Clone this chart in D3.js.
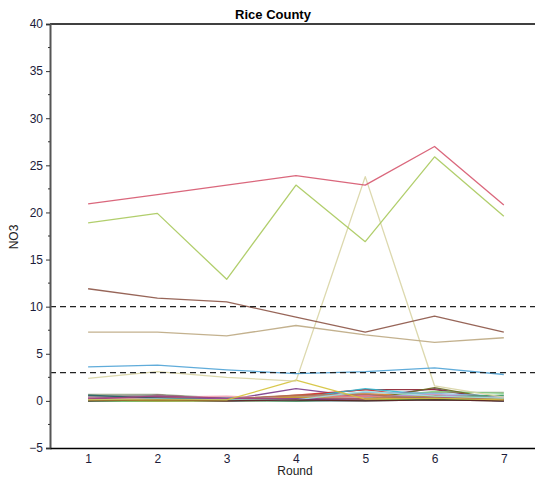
<!DOCTYPE html>
<html>
<head>
<meta charset="utf-8">
<script src="https://cdn.jsdelivr.net/npm/d3@7"></script>
<style>
  html, body { margin: 0; padding: 0; background: #fff; }
  svg { display: block; font-family: "Liberation Sans", Arial, sans-serif; }
</style>
</head>
<body>
<svg id="chart" width="535" height="485"></svg>
<script>
// NO3 readings per sampling round, Rice County wells
const rounds = [1, 2, 3, 4, 5, 6, 7];
const yTicks = [-5, 0, 5, 10, 15, 20, 25, 30, 35, 40];
const referenceLevels = [10, 3];

const wellIds = [
  "W01","W02","W03","W04","W05","W06","W07","W08","W09","W10",
  "W11","W12","W13","W14","W15","W16","W17","W18","W19","W20",
  "W21","W22","W23","W24","W25","W26","W27","W28","W29","W30",
  "W31","W32","W33"
];

const wellColors = [
  "#9aa88a","#3a9a9a","#e060d0","#7a3a8a","#8b2030","#d03030","#30b8d0","#80d080","#e89030","#f0a0b0",
  "#303080","#6b6b20","#80b0e0","#b090d0","#b07050","#40a060","#909090","#9040c0","#e88070","#4060c0",
  "#60b040","#c0a030","#206060","#a04080","#a0e0e0","#602020","#d4c238",
  "#d8d4a4","#4fa3d6","#bca982","#8c5446","#a9c95c","#d6566e"
];

const wellValues = [
  [0.7, 0.7, 0.3, 0.4, 0.6, 0.9, 0.9],
  [0.4, 0.5, 0.3, 0.2, 0.3, 0.6, 0.3],
  [0.4, 0.3, 0.2, 0.3, 0.6, 0.4, 0.2],
  [0.3, 0.5, 0.1, 1.3, 0.4, 1.3, 0.0],
  [0.0, 0.6, 0.2, 0.5, 1.2, 1.2, 0.1],
  [0.1, 0.2, 0.1, 0.6, 1.2, 0.3, 0.0],
  [0.2, 0.1, 0.2, 0.3, 1.3, 0.6, 0.2],
  [0.0, 0.0, 0.0, 0.1, 0.3, 1.0, 0.8],
  [0.1, 0.1, 0.2, 0.5, 0.8, 0.4, 0.1],
  [0.5, 0.4, 0.5, 0.2, 0.4, 0.7, 0.3],
  [0.2, 0.3, 0.1, 0.1, 0.2, 0.3, 0.0],
  [0.1, 0.2, 0.0, 0.3, 0.1, 1.4, 0.1],
  [0.3, 0.2, 0.3, 0.4, 0.9, 0.8, 0.5],
  [0.2, 0.1, 0.0, 0.2, 0.5, 0.6, 0.4],
  [0.1, 0.4, 0.2, 0.6, 0.7, 0.2, 0.0],
  [0.0, 0.0, 0.0, 0.0, 0.2, 0.4, 0.6],
  [0.5, 0.6, 0.2, 0.1, 0.3, 0.5, 0.2],
  [0.2, 0.3, 0.2, 0.3, 0.1, 0.2, 0.1],
  [0.3, 0.2, 0.1, 0.4, 0.5, 0.1, 0.0],
  [0.0, 0.1, 0.0, 0.2, 0.1, 0.3, 0.0],
  [0.0, 0.0, 0.1, 0.0, 0.1, 0.2, 0.1],
  [0.1, 0.0, 0.0, 0.4, 0.2, 0.5, 0.2],
  [0.6, 0.3, 0.1, 0.0, 0.0, 0.1, 0.0],
  [0.2, 0.5, 0.3, 0.2, 0.2, 0.4, 0.1],
  [0.1, 0.2, 0.1, 0.1, 1.0, 0.5, 0.3],
  [0.0, 0.1, 0.0, 0.1, 0.0, 0.1, 0.0],
  [0.1, 0.1, 0.1, 2.2, 0.2, 0.3, 0.1],
  [2.4, 3.1, 2.5, 2.1, 23.8, 1.6, 0.4],
  [3.6, 3.8, 3.3, 2.9, 3.1, 3.5, 2.8],
  [7.3, 7.3, 6.9, 8.0, 7.0, 6.2, 6.7],
  [11.9, 10.9, 10.5, 8.9, 7.3, 9.0, 7.3],
  [18.9, 19.9, 12.9, 22.9, 16.9, 25.9, 19.6],
  [20.9, 21.9, 22.9, 23.9, 22.9, 27.0, 20.8]
];

const svg = d3.select("#chart");
const plotLeft = 50, plotRight = 535, plotTop = 24, plotBottom = 448;

const x = d3.scaleLinear().domain([0.45, 7.45]).range([plotLeft, plotRight]);
const y = d3.scaleLinear().domain([-5, 40]).range([plotBottom, plotTop]);

// title
svg.append("text")
  .attr("x", 273).attr("y", 19)
  .attr("text-anchor", "middle")
  .attr("font-size", 13).attr("font-weight", "bold")
  .attr("fill", "#000")
  .text("Rice County");

// top frame line
svg.append("line")
  .attr("x1", plotLeft).attr("x2", plotRight)
  .attr("y1", plotTop).attr("y2", plotTop)
  .attr("stroke", "#000").attr("stroke-width", 1.5);

// series
const line = d3.line()
  .x((d, i) => x(rounds[i]))
  .y(d => y(d));

svg.append("g")
  .selectAll("path")
  .data(wellValues)
  .join("path")
  .attr("d", line)
  .attr("fill", "none")
  .attr("stroke", (d, i) => wellColors[i])
  .attr("stroke-width", 1.3)
  .attr("stroke-opacity", 0.9)
  .attr("stroke-linejoin", "round");

// reference levels
svg.append("g")
  .selectAll("line")
  .data(referenceLevels)
  .join("line")
  .attr("x1", plotLeft).attr("x2", plotRight)
  .attr("y1", d => y(d)).attr("y2", d => y(d))
  .attr("stroke", "#222")
  .attr("stroke-width", 1.2)
  .attr("stroke-dasharray", "6,4");

// y axis
const yAxis = svg.append("g")
  .attr("transform", `translate(${plotLeft},0)`)
  .call(d3.axisLeft(y).tickValues(yTicks).tickSize(4).tickPadding(3).tickFormat(d3.format("d")));
yAxis.select(".domain").attr("stroke", "#555").attr("stroke-width", 2);
yAxis.selectAll(".tick line").attr("stroke", "#333");
yAxis.selectAll(".tick text")
  .attr("font-size", 12)
  .attr("font-family", "'Liberation Sans', Arial, sans-serif")
  .attr("fill", "#1c1c3a");

// minor ticks
const minorTicks = d3.range(-2.5, 40, 5);
svg.append("g")
  .selectAll("line")
  .data(minorTicks)
  .join("line")
  .attr("x1", plotLeft - 2).attr("x2", plotLeft)
  .attr("y1", d => y(d)).attr("y2", d => y(d))
  .attr("stroke", "#333");

// x axis
const xAxis = svg.append("g")
  .attr("transform", `translate(0,${plotBottom})`)
  .call(d3.axisBottom(x).tickValues(rounds).tickSize(0).tickPadding(6).tickFormat(d3.format("d")));
xAxis.select(".domain").attr("stroke", "#000").attr("stroke-width", 1.5);
xAxis.selectAll(".tick text")
  .attr("font-size", 12)
  .attr("font-family", "'Liberation Sans', Arial, sans-serif")
  .attr("fill", "#1c1c3a");

// axis labels
svg.append("text")
  .attr("x", 295).attr("y", 475)
  .attr("text-anchor", "middle")
  .attr("font-size", 12)
  .attr("fill", "#222")
  .text("Round");

svg.append("text")
  .attr("transform", "translate(18,237) rotate(-90)")
  .attr("text-anchor", "middle")
  .attr("font-size", 12)
  .attr("fill", "#222")
  .text("NO3");
</script>
</body>
</html>
